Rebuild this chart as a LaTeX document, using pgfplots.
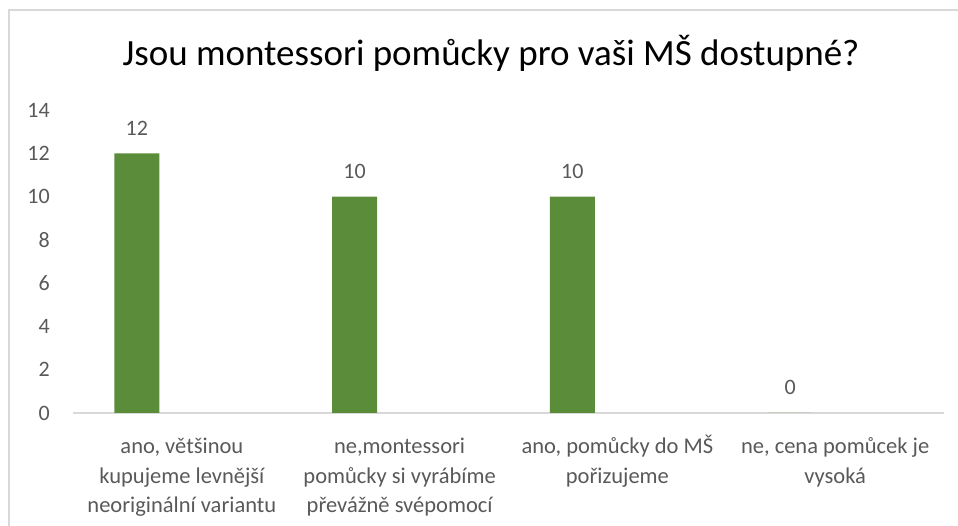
\documentclass[border=0pt]{standalone}
\usepackage{pgfplots}
\pgfplotsset{compat=1.18}
\usepackage{fontspec}
\setmainfont{Carlito}
\definecolor{bargreen}{HTML}{5B8C3A}
\definecolor{txtgrey}{HTML}{595959}
\definecolor{linegrey}{HTML}{D9D9D9}
\begin{document}
\begin{tikzpicture}
\path[use as bounding box] (0pt,0pt) rectangle (958pt,526pt);
\draw[linegrey, line width=1.5pt] (9pt,0pt) -- (9pt,516pt) -- (958pt,516pt);
\node[anchor=base, inner sep=0pt, text=black, font=\fontsize{37}{44}\selectfont] at (491pt,460pt) {Jsou montessori pomůcky pro vaši MŠ dostupné?};
\begin{axis}[
  at={(73pt,113pt)}, anchor=south west,
  scale only axis,
  width=871pt, height=303pt,
  xmin=-0.5, xmax=3.5,
  ymin=0, ymax=14,
  ytick={0,2,...,14},
  xtick={0,1,2,3},
  xticklabels={{\vphantom{Š}ano, většinou\\kupujeme levnější\\neoriginální variantu},
               {\vphantom{Š}ne,montessori\\pomůcky si vyrábíme\\převážně svépomocí},
               {\vphantom{Š}ano, pomůcky do MŠ\\pořizujeme},
               {\vphantom{Š}ne, cena pomůcek je\\vysoká}},
  axis x line*=bottom,
  axis y line*=left,
  x axis line style={linegrey, line width=1.5pt, -},
  y axis line style={draw=none},
  major tick length=0pt,
  tick style={draw=none},
  /pgf/number format/assume math mode=true,
  ticklabel style={font=\fontsize{22}{25}\selectfont, text=txtgrey},
  yticklabel style={inner sep=0pt, anchor=east, xshift=-23pt},
  xticklabel style={inner sep=0pt, anchor=north, align=center, yshift=-22pt, font=\fontsize{22.5}{29.5}\selectfont},
  ybar,
  bar width=45pt,
  bar shift=-45pt,
  nodes near coords,
  every node near coord/.append style={font=\fontsize{22}{25}\selectfont, text=txtgrey, inner sep=0pt, anchor=base, yshift=18pt},
  clip=false,
]
\addplot[fill=bargreen, draw=none] coordinates {(0,12) (1,10) (2,10) (3,0)};
\end{axis}
\end{tikzpicture}
\end{document}
